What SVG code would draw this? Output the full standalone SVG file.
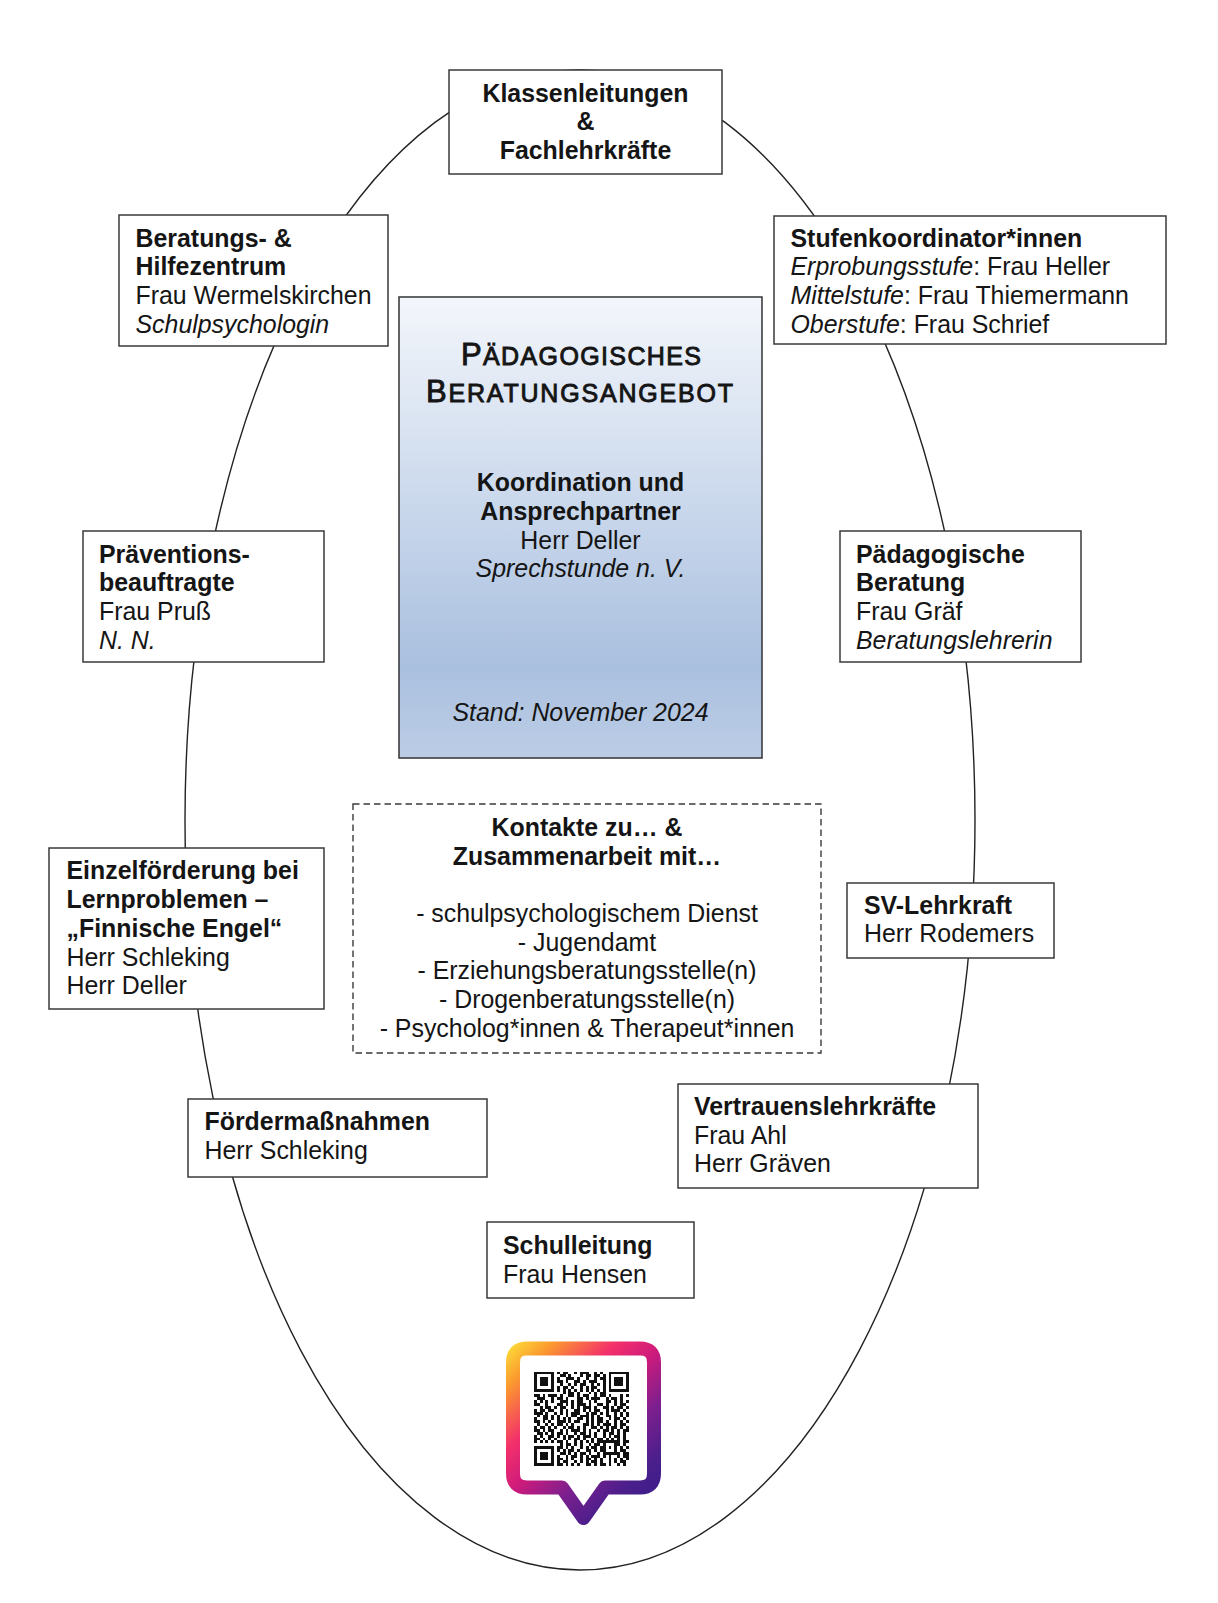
<svg xmlns="http://www.w3.org/2000/svg" width="1218" height="1603" viewBox="0 0 1218 1603">
<style>
text{font-family:"Liberation Sans",Arial,sans-serif;font-size:24.9px;fill:#151515}
.b{font-weight:bold}
.i{font-style:italic}
.c{text-anchor:middle}
.box{fill:#fff;stroke:#3a3a3a;stroke-width:1.5}
.title{font-weight:normal;stroke:#151515;stroke-width:0.9}
.qr line{stroke:#111;stroke-width:1;stroke-linecap:butt}
</style>
<defs>
<linearGradient id="centerGrad" x1="0" y1="0" x2="0" y2="1">
<stop offset="0" stop-color="#f3f6fb"/>
<stop offset="0.45" stop-color="#cad8ec"/>
<stop offset="0.8" stop-color="#aac0df"/>
<stop offset="1" stop-color="#bccde6"/>
</linearGradient>
<linearGradient id="pinGrad" gradientUnits="userSpaceOnUse" x1="506" y1="1342" x2="660" y2="1500">
<stop offset="0" stop-color="#fde53a"/>
<stop offset="0.15" stop-color="#fb9a2e"/>
<stop offset="0.35" stop-color="#f3306a"/>
<stop offset="0.5" stop-color="#cf1b7b"/>
<stop offset="0.68" stop-color="#7d1f8e"/>
<stop offset="0.85" stop-color="#4b1f8c"/>
<stop offset="1" stop-color="#3a1d89"/>
</linearGradient>
</defs>
<rect width="1218" height="1603" fill="#fff"/>

<g id="connectors">
<ellipse cx="580" cy="820" rx="395" ry="750" fill="none" stroke="#222" stroke-width="1.4"/>
</g>

<g id="center">
<rect x="399" y="297" width="363" height="461" fill="url(#centerGrad)" stroke="#333" stroke-width="1.5"/>
<text class="title" x="461" y="364.5" textLength="240" lengthAdjust="spacing"><tspan font-size="31">P</tspan><tspan font-size="25">ÄDAGOGISCHES</tspan></text>
<text class="title" x="426" y="402" textLength="307" lengthAdjust="spacing"><tspan font-size="31">B</tspan><tspan font-size="25">ERATUNGSANGEBOT</tspan></text>
<text class="b c" x="580.5" y="491">Koordination und</text>
<text class="b c" x="580.5" y="520">Ansprechpartner</text>
<text class="c" x="580.5" y="548.5">Herr Deller</text>
<text class="i c" x="580.5" y="577">Sprechstunde n. V.</text>
<text class="i c" x="580.5" y="721">Stand: November 2024</text>
</g>

<g id="klassenleitungen">
<rect class="box" x="449" y="70" width="273" height="104"/>
<text class="b c" x="585.5" y="101.7">Klassenleitungen</text>
<text class="b c" x="585.5" y="130.3">&amp;</text>
<text class="b c" x="585.5" y="159">Fachlehrkräfte</text>
</g>

<g id="beratungszentrum">
<rect class="box" x="119" y="215" width="269" height="131"/>
<text class="b" x="135.5" y="246.5">Beratungs- &amp;</text>
<text class="b" x="135.5" y="275">Hilfezentrum</text>
<text x="135.5" y="304">Frau Wermelskirchen</text>
<text class="i" x="135.5" y="333">Schulpsychologin</text>
</g>

<g id="stufenkoordinatoren">
<rect class="box" x="774" y="216" width="392" height="128"/>
<text class="b" x="790.5" y="246.5">Stufenkoordinator*innen</text>
<text x="790.5" y="275"><tspan class="i">Erprobungsstufe</tspan>: Frau Heller</text>
<text x="790.5" y="304"><tspan class="i">Mittelstufe</tspan>: Frau Thiemermann</text>
<text x="790.5" y="333"><tspan class="i">Oberstufe</tspan>: Frau Schrief</text>
</g>

<g id="praevention">
<rect class="box" x="83" y="531" width="241" height="131"/>
<text class="b" x="99" y="562.5">Präventions-</text>
<text class="b" x="99" y="591">beauftragte</text>
<text x="99" y="620">Frau Pruß</text>
<text class="i" x="99" y="648.5">N. N.</text>
</g>

<g id="paedagogische-beratung">
<rect class="box" x="840" y="531" width="241" height="131"/>
<text class="b" x="856" y="562.5">Pädagogische</text>
<text class="b" x="856" y="591">Beratung</text>
<text x="856" y="620">Frau Gräf</text>
<text class="i" x="856" y="648.5">Beratungslehrerin</text>
</g>

<g id="einzelfoerderung">
<rect class="box" x="49" y="848" width="275" height="161"/>
<text class="b" x="66.5" y="879">Einzelförderung bei</text>
<text class="b" x="66.5" y="908">Lernproblemen –</text>
<text class="b" x="66.5" y="937">„Finnische Engel“</text>
<text x="66.5" y="965.5">Herr Schleking</text>
<text x="66.5" y="994">Herr Deller</text>
</g>

<g id="kontakte">
<rect x="353" y="804" width="468" height="249" fill="#fff" stroke="#3a3a3a" stroke-width="1.4" stroke-dasharray="6.5 4"/>
<text class="b c" x="587" y="835.5">Kontakte zu… &amp;</text>
<text class="b c" x="587" y="864.5">Zusammenarbeit mit…</text>
<text class="c" x="587" y="921.5">- schulpsychologischem Dienst</text>
<text class="c" x="587" y="950.5">- Jugendamt</text>
<text class="c" x="587" y="979">- Erziehungsberatungsstelle(n)</text>
<text class="c" x="587" y="1007.5">- Drogenberatungsstelle(n)</text>
<text class="c" x="587" y="1036.5">- Psycholog*innen &amp; Therapeut*innen</text>
</g>

<g id="sv-lehrkraft">
<rect class="box" x="847" y="883" width="207" height="75"/>
<text class="b" x="864" y="913.5">SV-Lehrkraft</text>
<text x="864" y="942">Herr Rodemers</text>
</g>

<g id="foerdermassnahmen">
<rect class="box" x="188" y="1099" width="299" height="78"/>
<text class="b" x="204.5" y="1130">Fördermaßnahmen</text>
<text x="204.5" y="1159">Herr Schleking</text>
</g>

<g id="vertrauenslehrkraefte">
<rect class="box" x="678" y="1084" width="300" height="104"/>
<text class="b" x="694" y="1115">Vertrauenslehrkräfte</text>
<text x="694" y="1143.5">Frau Ahl</text>
<text x="694" y="1172">Herr Gräven</text>
</g>

<g id="schulleitung">
<rect class="box" x="487" y="1222" width="207" height="76"/>
<text class="b" x="503" y="1254">Schulleitung</text>
<text x="503" y="1283">Frau Hensen</text>
</g>

<g id="qr-pin">
<path d="M527,1348.5 H640 Q654,1348.5 654,1362.5 V1473.5 Q654,1487.5 640,1487.5 H605 L583.5,1518 L562,1487.5 H527 Q513,1487.5 513,1473.5 V1362.5 Q513,1348.5 527,1348.5 Z" fill="#fff" stroke="url(#pinGrad)" stroke-width="14" stroke-linejoin="round"/>
<g class="qr" transform="translate(534,1371.5) scale(2.87)" shape-rendering="crispEdges">
<line x1="0" x2="33" y1="0.5" y2="0.5" stroke-dasharray="7 1 1 1 2 2 1 1 3 2 1 1 1 2 7 0"/>
<line x1="0" x2="33" y1="1.5" y2="1.5" stroke-dasharray="1 5 1 2 2 1 1 3 1 1 2 1 2 1 1 1 1 5 1 0"/>
<line x1="0" x2="33" y1="2.5" y2="2.5" stroke-dasharray="1 1 3 1 1 1 1 2 3 1 1 2 1 2 1 1 2 1 1 1 3 1 1 0"/>
<line x1="0" x2="33" y1="3.5" y2="3.5" stroke-dasharray="1 1 3 1 1 1 2 1 1 2 2 1 1 1 3 2 1 1 1 1 3 1 1 0"/>
<line x1="0" x2="33" y1="4.5" y2="4.5" stroke-dasharray="1 1 3 1 1 2 1 2 1 1 1 1 2 2 1 1 1 1 1 1 1 1 3 1 1 0"/>
<line x1="0" x2="33" y1="5.5" y2="5.5" stroke-dasharray="1 5 1 1 1 1 2 1 1 2 1 1 1 1 2 2 1 1 1 5 1 0"/>
<line x1="0" x2="33" y1="6.5" y2="6.5" stroke-dasharray="7 1 1 1 1 1 1 1 1 1 1 1 1 1 1 1 1 1 1 1 7 0"/>
<line x1="0" x2="33" y1="7.5" y2="7.5" stroke-dasharray="0 10 1 1 2 1 1 3 1 1 1 1 2 8"/>
<line x1="0" x2="33" y1="8.5" y2="8.5" stroke-dasharray="2 1 1 1 3 1 1 2 2 1 1 1 2 2 1 1 2 1 1 3 1 1 1 0"/>
<line x1="0" x2="33" y1="9.5" y2="9.5" stroke-dasharray="0 1 3 2 1 1 2 1 1 3 2 1 1 1 3 2 1 1 2 1 1 2"/>
<line x1="0" x2="33" y1="10.5" y2="10.5" stroke-dasharray="1 1 1 1 1 1 1 2 3 1 1 1 2 2 1 1 1 3 2 1 1 1 1 1 1 0"/>
<line x1="0" x2="33" y1="11.5" y2="11.5" stroke-dasharray="2 2 1 3 2 1 1 1 1 1 3 1 1 2 2 1 1 2 1 1 2 1"/>
<line x1="0" x2="33" y1="12.5" y2="12.5" stroke-dasharray="0 2 1 1 2 1 1 1 2 2 1 1 1 1 3 1 1 2 2 1 1 1 2 1 1 0"/>
<line x1="0" x2="33" y1="13.5" y2="13.5" stroke-dasharray="1 1 2 1 2 2 1 1 1 2 2 1 1 1 1 1 2 2 1 1 3 1 1 1"/>
<line x1="0" x2="33" y1="14.5" y2="14.5" stroke-dasharray="3 1 1 2 1 1 1 1 1 1 3 2 1 1 2 1 1 1 1 2 1 1 1 1 1 0"/>
<line x1="0" x2="33" y1="15.5" y2="15.5" stroke-dasharray="0 1 1 1 2 1 1 1 1 2 1 1 2 1 3 1 1 1 1 2 2 1 1 1 1 1 1 0"/>
<line x1="0" x2="33" y1="16.5" y2="16.5" stroke-dasharray="1 2 2 1 1 1 1 1 1 1 1 2 2 1 1 1 1 1 2 2 1 1 2 1 1 1"/>
<line x1="0" x2="33" y1="17.5" y2="17.5" stroke-dasharray="2 1 1 1 1 2 3 1 1 1 2 2 1 1 1 1 2 1 1 2 1 1 1 1 1 0"/>
<line x1="0" x2="33" y1="18.5" y2="18.5" stroke-dasharray="0 1 1 2 1 1 1 1 2 1 1 1 1 3 2 1 1 1 1 1 3 1 1 1 2 1"/>
<line x1="0" x2="33" y1="19.5" y2="19.5" stroke-dasharray="1 1 2 1 1 1 1 2 1 1 2 1 1 1 1 2 2 1 1 1 1 1 2 1 1 1 1 0"/>
<line x1="0" x2="33" y1="20.5" y2="20.5" stroke-dasharray="2 1 1 1 2 2 1 1 1 1 3 1 1 1 1 2 1 1 2 1 1 1 1 1 2 0"/>
<line x1="0" x2="33" y1="21.5" y2="21.5" stroke-dasharray="0 1 2 1 1 1 1 1 2 1 1 2 1 1 2 1 1 1 1 2 1 1 2 1 1 1 1 1"/>
<line x1="0" x2="33" y1="22.5" y2="22.5" stroke-dasharray="1 1 1 2 2 1 1 1 1 1 2 1 1 1 3 1 1 2 1 1 1 1 2 1 1 1"/>
<line x1="0" x2="33" y1="23.5" y2="23.5" stroke-dasharray="2 1 1 1 1 1 1 2 1 1 1 1 2 1 1 2 1 1 2 1 1 1 1 1 1 1 1 1"/>
<line x1="0" x2="33" y1="24.5" y2="24.5" stroke-dasharray="1 1 1 1 1 1 1 1 2 1 1 2 1 1 1 1 1 1 1 1 2 1 1 1 1 1 1 1 2 0"/>
<line x1="0" x2="33" y1="25.5" y2="25.5" stroke-dasharray="0 9 1 1 2 1 1 1 1 2 1 1 2 1 1 1 2 1 1 1 1 1 1 0"/>
<line x1="0" x2="33" y1="26.5" y2="26.5" stroke-dasharray="0 8 2 1 1 1 1 2 1 1 1 1 2 1 1 1 1 2 1 1 1 1 1 1"/>
<line x1="0" x2="33" y1="27.5" y2="27.5" stroke-dasharray="0 8 1 1 1 1 2 1 1 2 2 1 1 1 1 1 1 2 1 1 2 1"/>
<line x1="0" x2="33" y1="28.5" y2="28.5" stroke-dasharray="0 9 2 1 1 1 1 1 2 1 1 2 1 1 1 1 2 1 1 1 2 0"/>
<line x1="0" x2="33" y1="29.5" y2="29.5" stroke-dasharray="0 8 1 2 1 1 2 1 1 1 1 1 3 1 1 1 1 2 1 1 2 0"/>
<line x1="0" x2="33" y1="30.5" y2="30.5" stroke-dasharray="0 8 2 1 1 1 1 2 1 1 2 1 1 1 1 2 1 1 1 1 1 1 1 0"/>
<line x1="0" x2="33" y1="31.5" y2="31.5" stroke-dasharray="0 8 1 1 2 2 1 1 1 1 1 1 2 1 1 2 1 1 1 1 2 1"/>
<line x1="0" x2="33" y1="32.5" y2="32.5" stroke-dasharray="0 8 2 1 1 1 1 1 1 2 2 1 1 1 2 1 1 2 1 1 1 1"/>
<rect x="0" y="0" width="8" height="8" fill="#fff"/>
<rect x="25" y="0" width="8" height="8" fill="#fff"/>
<rect x="0" y="25" width="8" height="8" fill="#fff"/>
<rect x="24" y="24" width="5" height="5" fill="#fff"/>
<path fill="#111" fill-rule="evenodd" d="M0 0h7v7h-7z M1 1v5h5v-5z M2 2h3v3h-3z M26 0h7v7h-7z M27 1v5h5v-5z M28 2h3v3h-3z M0 26h7v7h-7z M1 27v5h5v-5z M2 28h3v3h-3z M24 24h5v5h-5z M25 25v3h3v-3z M26 26h1v1h-1z"/>
</g>
</g>
</svg>
